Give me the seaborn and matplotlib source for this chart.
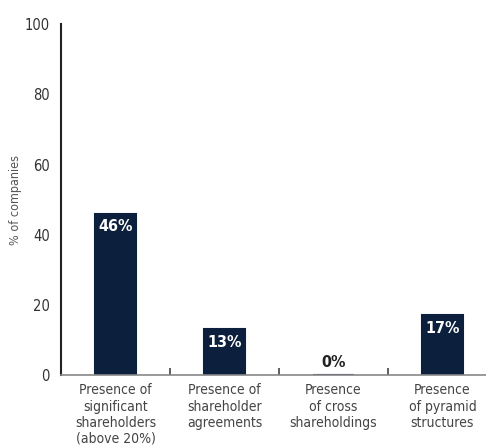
import matplotlib
matplotlib.use("Agg")
import matplotlib.pyplot as plt
import seaborn as sns
import pandas as pd
from matplotlib.ticker import FixedLocator

categories = ["Presence of\nsignificant\nshareholders\n(above 20%)",
              "Presence of\nshareholder\nagreements",
              "Presence\nof cross\nshareholdings",
              "Presence\nof pyramid\nstructures"]
values = [46, 13, 0, 17]
labels = ["46%", "13%", "0%", "17%"]

sns.set_theme(style="white")
plt.rcParams['font.family'] = ['DejaVu Sans']
plt.rcParams['font.stretch'] = 'condensed'

df = pd.DataFrame({"cat": categories, "val": values})
fig = plt.figure(figsize=(4.86, 4.48), dpi=100)
ax = fig.add_axes([0.1255, 0.163, 0.8745, 0.783])
navy = "#0c1f3c"
sns.barplot(data=df, x="cat", y="val", color=navy, width=0.37, ax=ax,
            saturation=1, edgecolor=navy, linewidth=1.5)

ax.set_ylim(0, 100)
ax.set_xlim(-0.5, 3.4)
ax.set_yticks([0, 20, 40, 60, 80, 100])
ax.tick_params(axis='y', length=0, labelsize=10.5, labelcolor="#333333", pad=8)
ax.tick_params(axis='x', which='major', length=0, labelsize=10, labelcolor="#444444", pad=6)
for t in ax.get_xticklabels():
    t.set_linespacing(1.2)
ax.xaxis.set_minor_locator(FixedLocator([0.5, 1.5, 2.5]))
ax.tick_params(axis='x', which='minor', direction='in', length=5, width=1.2, color="#444444", bottom=True)
ax.set_xlabel("")
ax.set_ylabel("% of companies", fontsize=9, color="#555555", labelpad=2)

for s in ["top", "right"]:
    ax.spines[s].set_visible(False)
ax.spines["left"].set_color("#222222")
ax.spines["left"].set_linewidth(1.5)
ax.spines["bottom"].set_color("#888888")
ax.spines["bottom"].set_linewidth(1.2)

for i, (v, lab) in enumerate(zip(values, labels)):
    if v > 5:
        ax.text(i, v - 1.5, lab, ha="center", va="top", color="white",
                fontsize=11.5, fontweight="bold")
    else:
        ax.text(i, v + 1.5, lab, ha="center", va="bottom", color="#222222",
                fontsize=11.5, fontweight="bold")

fig.savefig("out.png", dpi=100)
